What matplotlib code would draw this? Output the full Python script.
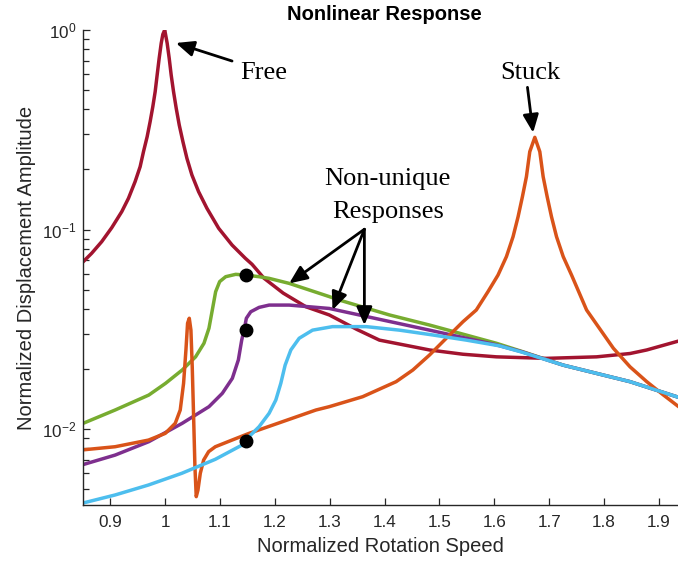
import numpy as np
import matplotlib
matplotlib.use("Agg")
import matplotlib.pyplot as plt

plt.rcParams['font.family'] = ['Liberation Sans', 'DejaVu Sans']

# rotation speed / amplitude pairs for each response curve
free_x = [0.8475, 0.8658, 0.8841, 0.9024, 0.9207, 0.9329, 0.9450, 0.9542, 0.9603, 0.9670,
          0.9724, 0.9773, 0.9816, 0.9852, 0.9889, 0.9926, 0.9956, 0.999, 1.0005, 1.0035,
          1.0072, 1.0108, 1.0151, 1.0200, 1.0255, 1.0322, 1.0395, 1.0486, 1.0608, 1.0760,
          1.0974, 1.1218, 1.1461, 1.1583, 1.18, 1.215, 1.2565, 1.2991, 1.35, 1.3905,
          1.4819, 1.5429, 1.6038, 1.6952, 1.7866, 1.8475, 1.878, 1.94]
free_y = [0.0677, 0.0760, 0.0869, 0.1021, 0.1229, 0.1433, 0.1737, 0.2065, 0.2455, 0.2920,
          0.3471, 0.4127, 0.4908, 0.5947, 0.7211, 0.8575, 0.9513, 1.0, 0.9513, 0.8575,
          0.7211, 0.5947, 0.4908, 0.4048, 0.3340, 0.2756, 0.2274, 0.1876, 0.1547, 0.1277,
          0.1014, 0.0836, 0.0717, 0.0669, 0.0570, 0.0480, 0.0410, 0.0373, 0.0315, 0.0279,
          0.0249, 0.0237, 0.0230, 0.0226, 0.0230, 0.0239, 0.0249, 0.0278]

stuck_x = [0.8475, 0.9085, 0.9694, 1.0, 1.0182, 1.0273, 1.0334, 1.0377, 1.0407, 1.0438,
           1.0468, 1.0492, 1.0517, 1.0541, 1.0565, 1.0596, 1.0639, 1.0700, 1.0791, 1.0913,
           1.1217, 1.1528, 1.2137, 1.2747, 1.2991, 1.3600, 1.4210, 1.4515, 1.4819, 1.5124,
           1.5429, 1.5672, 1.5885, 1.6068, 1.6221, 1.6342, 1.6434, 1.6513, 1.6586, 1.6647,
           1.6739, 1.6830, 1.6891, 1.6964, 1.7043, 1.7135, 1.7257, 1.7409, 1.7500, 1.7683,
           1.8171, 1.8475, 1.878, 1.9085, 1.94]
stuck_y = [0.00785, 0.00815, 0.0088, 0.00951, 0.01068, 0.01245, 0.01694, 0.0249, 0.0339,
           0.0359, 0.0313, 0.0205, 0.01153, 0.00648, 0.00458, 0.00494, 0.0060, 0.00699,
           0.0077, 0.00815, 0.0088, 0.00951, 0.01088, 0.01245, 0.01294, 0.01452, 0.01727,
           0.01976, 0.02349, 0.0285, 0.0345, 0.0395, 0.0488, 0.0591, 0.0731, 0.0920,
           0.1159, 0.1461, 0.1840, 0.2455, 0.2897, 0.2455, 0.1840, 0.1461, 0.1159, 0.0920,
           0.0731, 0.0591, 0.0517, 0.0395, 0.0254, 0.0205, 0.01727, 0.0148, 0.0127]

green_x = [0.8475, 0.9085, 0.97, 1.0005, 1.0309, 1.0553, 1.0706, 1.0797, 1.0858, 1.0919,
           1.0992, 1.1102, 1.1284, 1.1467, 1.1711, 1.1894, 1.226, 1.2991, 1.3174, 1.4088,
           1.4819, 1.6038, 1.65, 1.7257, 1.8475, 1.94]
green_y = [0.0106, 0.01245, 0.0148, 0.01694, 0.01976, 0.0230, 0.0269, 0.0320, 0.0395,
           0.0488, 0.0548, 0.0580, 0.0596, 0.0591, 0.0580, 0.0569, 0.0537, 0.0461, 0.0443,
           0.0373, 0.0332, 0.0269, 0.0245, 0.0209, 0.01727, 0.0143]

purple_x = [0.8475, 0.9085, 0.97, 1.0309, 1.0797, 1.1041, 1.1223, 1.1333, 1.1394, 1.1437,
            1.1479, 1.1559, 1.1711, 1.1894, 1.226, 1.2991, 1.3174, 1.4819, 1.6038, 1.65,
            1.7257, 1.8475, 1.94]
purple_y = [0.0066, 0.0074, 0.00864, 0.01068, 0.01294, 0.0151, 0.01794, 0.0222, 0.0279,
            0.0313, 0.0359, 0.0387, 0.0407, 0.0418, 0.0418, 0.0402, 0.0392, 0.0313, 0.0264,
            0.0244, 0.0209, 0.01727, 0.0143]

cyan_x = [0.8475, 0.9085, 0.9694, 1.0303, 1.0913, 1.1400, 1.1528, 1.1711, 1.1894, 1.2016,
          1.2107, 1.2186, 1.2290, 1.2442, 1.2686, 1.3051, 1.3661, 1.4270, 1.4880, 1.5489,
          1.6099, 1.65, 1.7257, 1.8475, 1.94]
cyan_y = [0.00424, 0.00467, 0.00524, 0.0060, 0.00705, 0.00831, 0.00915, 0.01027, 0.01199,
          0.01397, 0.01694, 0.0209, 0.0249, 0.0285, 0.0313, 0.0326, 0.0326, 0.0313, 0.0296,
          0.0279, 0.0261, 0.0243, 0.0209, 0.01727, 0.0143]

# points where the branches jump
jump_x = [1.148, 1.148, 1.148]
jump_y = [0.0591, 0.0313, 0.0087]

fig = plt.figure(figsize=(6.78, 5.65), dpi=100)
ax = fig.add_axes([83 / 678, 60 / 565, 595 / 678, 475 / 565])

lw = 2.5
ax.plot(free_x, free_y, color='#A2142F', lw=lw)
ax.plot(green_x, green_y, color='#77AC30', lw=lw)
ax.plot(purple_x, purple_y, color='#7E2F8E', lw=lw)
ax.plot(stuck_x, stuck_y, color='#D95319', lw=lw)
ax.plot(cyan_x, cyan_y, color='#4DBEEE', lw=lw)
ax.plot(jump_x, jump_y, 'ko', ms=9, zorder=5)

ax.set_yscale('log')
ax.set_xlim(0.85, 1.935)
ax.set_ylim(0.00416, 1.0)
ax.set_xticks(np.arange(0.9, 1.95, 0.1))
ax.set_xticklabels(['0.9', '1', '1.1', '1.2', '1.3', '1.4', '1.5', '1.6', '1.7', '1.8', '1.9'])
ax.set_yticks([0.01, 0.1, 1.0])
ax.set_yticklabels([r'$\mathregular{10^{-2}}$', r'$\mathregular{10^{-1}}$', r'$\mathregular{10^{0}}$'])

for s in ['top', 'right']:
    ax.spines[s].set_visible(False)
for s in ['left', 'bottom']:
    ax.spines[s].set_color('#262626')
    ax.spines[s].set_linewidth(1.0)
ax.tick_params(which='both', direction='in', colors='#262626', labelsize=12.3)
ax.tick_params(which='major', length=5, width=0.9)
ax.tick_params(which='minor', length=4, width=0.9)
ax.tick_params(axis='x', pad=7)
ax.tick_params(axis='y', pad=5)

ax.set_xlabel('Normalized Rotation Speed', fontsize=14.5, color='#262626', labelpad=5)
ax.set_ylabel('Normalized Displacement Amplitude', fontsize=14.5, color='#262626', labelpad=4)
ax.set_title('Nonlinear Response', fontsize=14.5, fontweight='bold', pad=7, x=0.507)

serif = dict(family=['Liberation Serif', 'DejaVu Serif'], fontsize=19, ha='center', va='baseline')
arrow = dict(arrowstyle='-|>,head_length=0.54,head_width=0.235', color='k', lw=2,
             mutation_scale=20, shrinkA=0, shrinkB=0)

ax.text(1.180, 0.568, 'Free', **serif)
ax.annotate('', xy=(1.0194, 0.861), xytext=(1.1218, 0.699), arrowprops=arrow)

ax.text(1.6653, 0.568, 'Stuck', **serif)
ax.annotate('', xy=(1.6708, 0.3056), xytext=(1.6605, 0.516), arrowprops=arrow)

ax.text(1.4058, 0.167, 'Non-unique', **serif)
ax.text(1.4058, 0.1138, 'Responses', **serif)
for tip in [(1.226, 0.0537), (1.305, 0.0395), (1.3631, 0.0332)]:
    ax.annotate('', xy=tip, xytext=(1.3631, 0.1003), arrowprops=arrow)

fig.savefig('out.png', dpi=100)
